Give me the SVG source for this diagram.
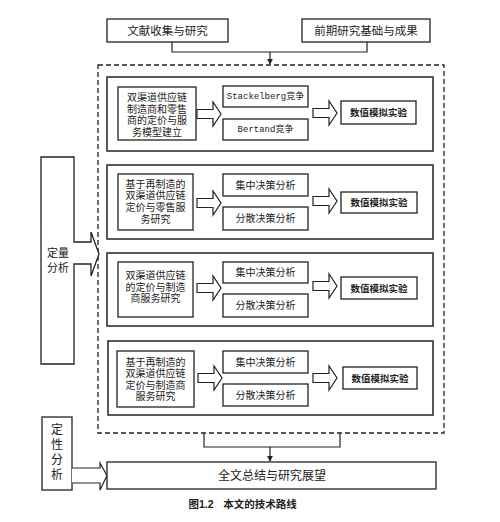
<svg xmlns="http://www.w3.org/2000/svg" width="500" height="522" viewBox="0 0 500 522">
<style>
.b{fill:#fff;stroke:#222;stroke-width:1.3}
.o{fill:none;stroke:#222;stroke-width:1.5}
.ln{fill:none;stroke:#222;stroke-width:1.2}
.ar{fill:#fff;stroke:#222;stroke-width:1.2;stroke-linejoin:miter}
text{font-family:"Liberation Sans","Noto Sans CJK SC",sans-serif;fill:#222;text-anchor:middle;dominant-baseline:central}
.s{font-size:10px}
.m{font-family:"Liberation Mono","Noto Sans CJK SC",monospace;font-size:9px}
.n{font-size:9.5px;font-weight:700}
</style>
<defs>
<marker id="ah" viewBox="0 0 8 8" refX="7" refY="4" markerWidth="6" markerHeight="6" orient="auto" markerUnits="userSpaceOnUse"><path d="M0,0 L8,4 L0,8 Z" fill="#222"/></marker>
<path id="ha1" d="M0,-4.5 H16 V-12 L24,0 L16,12 V4.5 H0 Z"/>
</defs>
<rect width="500" height="522" fill="#fff"/>
<g id="connectors">
<path class="ln" d="M172,42 V52 H367 V42"/>
<path class="ln" d="M270,52 V64" marker-end="url(#ah)"/>
<path class="ln" d="M204,433 V447 H340 V433"/>
<path class="ln" d="M270,447 V461" marker-end="url(#ah)"/>
</g>
<g id="n_top1"><rect class="b" x="107" y="19" width="121" height="23"/><text x="167.5" y="30.5" style="font-size:11.5px">文献收集与研究</text></g>
<g id="n_top2"><rect class="b" x="302" y="19" width="128" height="23"/><text x="366" y="30.5" style="font-size:11.5px">前期研究基础与成果</text></g>
<g id="n_dashed"><rect x="98" y="65" width="346" height="368" fill="none" stroke="#222" stroke-width="1.3" stroke-dasharray="5,3"/></g>
<g id="n_quant">
<path class="b" d="M41,157 H74 V242 H91 V232 L99,254 L91,276 V264 H74 V364 H41 Z"/>
<text style="font-size:11px"><tspan x="58" y="253">定量</tspan><tspan x="58" y="268">分析</tspan></text>
</g>
<g id="n_qual">
<rect class="b" x="42" y="417" width="30" height="73"/>
<path class="ar" d="M72,468 H100 V463 L107,475.5 L100,490 V483 H72"/>
<text style="font-size:12px"><tspan x="57" y="430">定</tspan><tspan x="57" y="445">性</tspan><tspan x="57" y="460">分</tspan><tspan x="57" y="474.5">析</tspan></text>
</g>
<g id="n_final"><rect class="b" x="107" y="462" width="329" height="27"/><text x="272" y="475.5" style="font-size:12px">全文总结与研究展望</text></g>
<g id="sec1">
<rect class="o" x="107" y="77" width="326" height="74"/>
<rect class="b" x="118" y="87" width="78" height="53"/>
<text class="s"><tspan x="157" y="97">双渠道供应链</tspan><tspan x="157" y="108.5">制造商和零售</tspan><tspan x="157" y="120">商的定价与服</tspan><tspan x="157" y="131.5">务模型建立</tspan></text>
<use href="#ha1" x="197" y="114" class="ar"/>
<rect class="b" x="223" y="86" width="85" height="21"/><text class="m" x="265.5" y="96.5">Stackelberg竞争</text>
<rect class="b" x="223" y="119" width="85" height="21"/><text class="m" x="265.5" y="129.5">Bertand竞争</text>
<use href="#ha1" x="313" y="113" class="ar"/>
<rect class="b" x="341" y="101" width="75" height="23"/><text class="n" x="378.5" y="112.5">数值模拟实验</text>
</g>
<g id="sec2">
<rect class="o" x="107" y="165" width="326" height="74"/>
<rect class="b" x="118" y="174" width="75" height="56"/>
<text class="s"><tspan x="155.5" y="183.5">基于再制造的</tspan><tspan x="155.5" y="195">双渠道供应链</tspan><tspan x="155.5" y="207">定价与零售服</tspan><tspan x="155.5" y="218.5">务研究</tspan></text>
<use href="#ha1" x="197" y="203" class="ar"/>
<rect class="b" x="223" y="174" width="85" height="22"/><text class="s" x="265.5" y="185">集中决策分析</text>
<rect class="b" x="223" y="207" width="85" height="23"/><text class="s" x="265.5" y="218.5">分散决策分析</text>
<use href="#ha1" x="313" y="201" class="ar"/>
<rect class="b" x="341" y="192" width="76" height="21"/><text class="n" x="379" y="202.5">数值模拟实验</text>
</g>
<g id="sec3">
<rect class="o" x="107" y="253" width="326" height="73"/>
<rect class="b" x="118" y="262" width="75" height="55"/>
<text class="s"><tspan x="155.5" y="275">双渠道供应链</tspan><tspan x="155.5" y="286.5">的定价与制造</tspan><tspan x="155.5" y="298">商服务研究</tspan></text>
<use href="#ha1" x="197" y="288" class="ar"/>
<rect class="b" x="223" y="262" width="85" height="21"/><text class="s" x="265.5" y="272.5">集中决策分析</text>
<rect class="b" x="223" y="294" width="85" height="23"/><text class="s" x="265.5" y="305.5">分散决策分析</text>
<use href="#ha1" x="313" y="286" class="ar"/>
<rect class="b" x="341" y="277" width="76" height="22"/><text class="n" x="379" y="288">数值模拟实验</text>
</g>
<g id="sec4">
<rect class="o" x="108" y="341" width="325" height="74"/>
<rect class="b" x="117" y="351" width="77" height="56"/>
<text class="s"><tspan x="155.5" y="361.5">基于再制造的</tspan><tspan x="155.5" y="373">双渠道供应链</tspan><tspan x="155.5" y="384.5">定价与制造商</tspan><tspan x="155.5" y="396">服务研究</tspan></text>
<use href="#ha1" x="198" y="378" class="ar"/>
<rect class="b" x="223" y="351" width="85" height="22"/><text class="s" x="265.5" y="362">集中决策分析</text>
<rect class="b" x="223" y="384" width="85" height="22"/><text class="s" x="265.5" y="395">分散决策分析</text>
<use href="#ha1" x="313" y="378" class="ar"/>
<rect class="b" x="343" y="367" width="74" height="22"/><text class="n" x="380" y="378">数值模拟实验</text>
</g>
<g id="caption">
<text x="201" y="504" style="font-size:10.5px;font-weight:700">图1.2</text>
<text x="260" y="504" style="font-size:10.5px;font-weight:700">本文的技术路线</text>
</g>
</svg>
